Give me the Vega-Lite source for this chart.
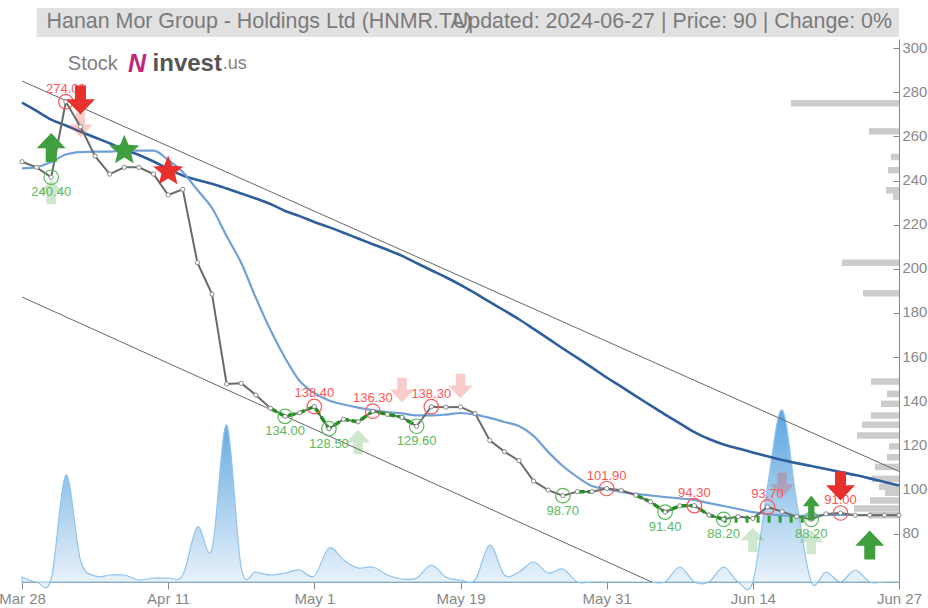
{
  "$schema": "https://vega.github.io/schema/vega-lite/v6.json",
  "width": 877,
  "height": 543,
  "autosize": {"type": "none"},
  "padding": {"left": 22, "top": 39, "right": 29, "bottom": 26},
  "background": "white",
  "config": {
    "view": {"stroke": null},
    "font": "Liberation Sans",
    "axis": {"labelFont": "Liberation Sans", "grid": false},
    "text": {"font": "Liberation Sans"}
  },
  "datasets": {
    "daily": [
      {"date":"2024-03-28","close":247.3,"ma50":273.6,"ma20":244.3,"volume":5000},
      {"date":"2024-03-31","close":244.8,"ma50":269.9,"ma20":244.9,"volume":0},
      {"date":"2024-04-01","close":240.4,"ma50":266.0,"ma20":247.2,"volume":3000},
      {"date":"2024-04-02","close":274.0,"ma50":263.4,"ma20":250.5,"volume":107000},
      {"date":"2024-04-03","close":262.9,"ma50":260.7,"ma20":251.6,"volume":22000},
      {"date":"2024-04-04","close":249.8,"ma50":258.1,"ma20":251.8,"volume":6000},
      {"date":"2024-04-07","close":241.8,"ma50":255.5,"ma20":251.8,"volume":7000},
      {"date":"2024-04-08","close":244.8,"ma50":252.7,"ma20":252.1,"volume":7000},
      {"date":"2024-04-09","close":244.8,"ma50":250.3,"ma20":252.2,"volume":2000},
      {"date":"2024-04-10","close":241.8,"ma50":247.4,"ma20":252.2,"volume":4000},
      {"date":"2024-04-11","close":232.5,"ma50":244.1,"ma20":248.1,"volume":4000},
      {"date":"2024-04-14","close":235.0,"ma50":241.2,"ma20":242.7,"volume":7000},
      {"date":"2024-04-15","close":202.4,"ma50":239.2,"ma20":234.7,"volume":55000},
      {"date":"2024-04-16","close":188.4,"ma50":237.5,"ma20":226.7,"volume":33000},
      {"date":"2024-04-17","close":148.4,"ma50":235.4,"ma20":214.2,"volume":157000},
      {"date":"2024-04-18","close":148.7,"ma50":233.2,"ma20":202.2,"volume":14000},
      {"date":"2024-04-21","close":143.5,"ma50":230.9,"ma20":186.7,"volume":10000},
      {"date":"2024-04-24","close":137.6,"ma50":228.5,"ma20":172.4,"volume":7000},
      {"date":"2024-04-25","close":134.0,"ma50":225.4,"ma20":160.0,"volume":9000},
      {"date":"2024-04-30","close":135.6,"ma50":223.1,"ma20":149.7,"volume":12000},
      {"date":"2024-05-01","close":138.4,"ma50":220.5,"ma20":144.4,"volume":6000},
      {"date":"2024-05-02","close":128.5,"ma50":218.2,"ma20":141.1,"volume":34000},
      {"date":"2024-05-05","close":132.7,"ma50":215.7,"ma20":139.3,"volume":22000},
      {"date":"2024-05-06","close":131.6,"ma50":213.1,"ma20":137.9,"volume":14000},
      {"date":"2024-05-07","close":136.3,"ma50":210.6,"ma20":136.8,"volume":15000},
      {"date":"2024-05-08","close":134.9,"ma50":208.1,"ma20":135.9,"volume":7000},
      {"date":"2024-05-09","close":133.6,"ma50":205.4,"ma20":135.3,"volume":3000},
      {"date":"2024-05-12","close":129.6,"ma50":202.2,"ma20":134.4,"volume":4000},
      {"date":"2024-05-15","close":138.3,"ma50":199.0,"ma20":134.4,"volume":17000},
      {"date":"2024-05-16","close":138.1,"ma50":195.9,"ma20":134.8,"volume":5000},
      {"date":"2024-05-19","close":138.2,"ma50":192.5,"ma20":135.5,"volume":2000},
      {"date":"2024-05-20","close":135.3,"ma50":188.8,"ma20":134.8,"volume":2000},
      {"date":"2024-05-21","close":123.3,"ma50":184.9,"ma20":133.3,"volume":37000},
      {"date":"2024-05-22","close":118.3,"ma50":181.1,"ma20":131.5,"volume":7000},
      {"date":"2024-05-23","close":114.3,"ma50":177.2,"ma20":129.7,"volume":10000},
      {"date":"2024-05-26","close":105.2,"ma50":172.9,"ma20":125.3,"volume":20000},
      {"date":"2024-05-27","close":101.2,"ma50":168.6,"ma20":118.2,"volume":9000},
      {"date":"2024-05-28","close":98.7,"ma50":164.2,"ma20":111.9,"volume":13000},
      {"date":"2024-05-29","close":100.5,"ma50":160.0,"ma20":107.0,"volume":0},
      {"date":"2024-05-30","close":100.5,"ma50":155.7,"ma20":103.0,"volume":0},
      {"date":"2024-05-31","close":101.9,"ma50":151.3,"ma20":101.7,"volume":0},
      {"date":"2024-06-02","close":101.1,"ma50":147.2,"ma20":100.4,"volume":0},
      {"date":"2024-06-03","close":98.9,"ma50":143.0,"ma20":99.5,"volume":0},
      {"date":"2024-06-04","close":96.0,"ma50":138.9,"ma20":98.8,"volume":0},
      {"date":"2024-06-05","close":91.4,"ma50":134.8,"ma20":98.1,"volume":0},
      {"date":"2024-06-06","close":94.2,"ma50":130.9,"ma20":97.5,"volume":15000},
      {"date":"2024-06-09","close":94.3,"ma50":127.0,"ma20":96.8,"volume":0},
      {"date":"2024-06-10","close":90.1,"ma50":123.9,"ma20":95.4,"volume":0},
      {"date":"2024-06-12","close":88.2,"ma50":121.5,"ma20":94.1,"volume":15000},
      {"date":"2024-06-13","close":89.4,"ma50":119.7,"ma20":92.8,"volume":0},
      {"date":"2024-06-14","close":88.6,"ma50":117.9,"ma20":91.4,"volume":0},
      {"date":"2024-06-16","close":93.7,"ma50":116.2,"ma20":90.5,"volume":95000},
      {"date":"2024-06-17","close":91.6,"ma50":114.6,"ma20":89.9,"volume":172000},
      {"date":"2024-06-18","close":89.4,"ma50":113.2,"ma20":89.7,"volume":80000},
      {"date":"2024-06-19","close":88.2,"ma50":111.9,"ma20":89.9,"volume":0},
      {"date":"2024-06-20","close":90.6,"ma50":110.6,"ma20":90.1,"volume":10000},
      {"date":"2024-06-23","close":91.0,"ma50":109.2,"ma20":90.1,"volume":0},
      {"date":"2024-06-24","close":90.0,"ma50":107.9,"ma20":90.1,"volume":12000},
      {"date":"2024-06-25","close":90.0,"ma50":106.4,"ma20":90.1,"volume":0},
      {"date":"2024-06-26","close":90.0,"ma50":104.8,"ma20":90.1,"volume":0},
      {"date":"2024-06-27","close":90.0,"ma50":103.2,"ma20":90.1,"volume":0}
    ],
    "segments": [
      {"date":"2024-04-24","close":137.6,"seg":"A"},
      {"date":"2024-04-25","close":134.0,"seg":"A"},
      {"date":"2024-04-30","close":135.6,"seg":"A"},
      {"date":"2024-05-01","close":138.4,"seg":"A"},
      {"date":"2024-05-02","close":128.5,"seg":"A"},
      {"date":"2024-05-05","close":132.7,"seg":"A"},
      {"date":"2024-05-06","close":131.6,"seg":"A"},
      {"date":"2024-05-07","close":136.3,"seg":"A"},
      {"date":"2024-05-08","close":134.9,"seg":"A"},
      {"date":"2024-05-09","close":133.6,"seg":"A"},
      {"date":"2024-05-12","close":129.6,"seg":"A"},
      {"date":"2024-05-29","close":100.5,"seg":"B"},
      {"date":"2024-05-30","close":100.5,"seg":"B"},
      {"date":"2024-06-03","close":98.9,"seg":"C"},
      {"date":"2024-06-04","close":96.0,"seg":"C"},
      {"date":"2024-06-05","close":91.4,"seg":"C"},
      {"date":"2024-06-06","close":94.2,"seg":"C"},
      {"date":"2024-06-09","close":94.3,"seg":"C"},
      {"date":"2024-06-10","close":90.1,"seg":"C"},
      {"date":"2024-06-12","close":88.2,"seg":"C"}
    ],
    "support": [
      {"date":"2024-06-12","level":88.2},
      {"date":"2024-06-19","level":88.2}
    ],
    "lows": [
      {"date":"2024-04-01","price":240.4},
      {"date":"2024-04-25","price":134.0},
      {"date":"2024-05-02","price":128.5},
      {"date":"2024-05-12","price":129.6},
      {"date":"2024-05-28","price":98.7},
      {"date":"2024-06-05","price":91.4},
      {"date":"2024-06-12","price":88.2},
      {"date":"2024-06-19","price":88.2}
    ],
    "highs": [
      {"date":"2024-04-02","price":274.0},
      {"date":"2024-05-01","price":138.4},
      {"date":"2024-05-07","price":136.3},
      {"date":"2024-05-15","price":138.3},
      {"date":"2024-05-31","price":101.9},
      {"date":"2024-06-09","price":94.3},
      {"date":"2024-06-16","price":93.7},
      {"date":"2024-06-23","price":91.0}
    ],
    "upSolid": [
      {"date":"2024-04-01","price":253.6},
      {"date":"2024-06-25","price":76.8}
    ],
    "upNarrow": [
      {"date":"2024-06-19","price":93.2}
    ],
    "upPale": [
      {"date":"2024-04-01","price":233.8},
      {"date":"2024-05-06","price":122.6},
      {"date":"2024-06-14","price":79.0},
      {"date":"2024-06-19","price":78.1}
    ],
    "downSolid": [
      {"date":"2024-04-03","price":274.8},
      {"date":"2024-06-23","price":103.0}
    ],
    "downPale": [
      {"date":"2024-04-03","price":263.6},
      {"date":"2024-05-09","price":145.7},
      {"date":"2024-05-19","price":147.5},
      {"date":"2024-06-17","price":103.5}
    ],
    "buyStar": [{"date":"2024-04-08","price":252.3}],
    "sellStar": [{"date":"2024-04-11","price":243.0}],
    "trend": [
      {"date":"2024-03-28","band":"upper","price":283.2},
      {"date":"2024-06-27","band":"upper","price":109.5},
      {"date":"2024-03-28","band":"lower","price":187.1},
      {"date":"2024-06-27","band":"lower","price":10.5}
    ],
    "profile": [
      {"price":275.0,"volume":10800},
      {"price":262.3,"volume":3000},
      {"price":250.7,"volume":800},
      {"price":244.7,"volume":1100},
      {"price":235.6,"volume":1300},
      {"price":232.7,"volume":600},
      {"price":202.7,"volume":5700},
      {"price":188.9,"volume":3600},
      {"price":148.9,"volume":2800},
      {"price":143.3,"volume":1200},
      {"price":138.8,"volume":1800},
      {"price":133.5,"volume":2800},
      {"price":129.3,"volume":3700},
      {"price":124.4,"volume":4200},
      {"price":119.5,"volume":1000},
      {"price":114.6,"volume":1200},
      {"price":110.2,"volume":2400},
      {"price":104.8,"volume":2700},
      {"price":101.2,"volume":2000},
      {"price":98.5,"volume":1400},
      {"price":95.0,"volume":2900},
      {"price":91.3,"volume":4500},
      {"price":88.3,"volume":3000}
    ]
  },
  "resolve": {"scale": {"x": "independent", "y": "independent"}},
  "layer": [
    {
      "data": {"name": "daily"},
      "mark": {
        "type": "area",
        "interpolate": "cardinal",
        "stroke": "#8fc3ec",
        "strokeWidth": 1.2,
        "fillOpacity": 1,
        "fill": {
          "gradient": "linear", "x1": 0, "y1": 0, "x2": 0, "y2": 1,
          "stops": [{"offset": 0, "color": "#5ba5de"}, {"offset": 1, "color": "#eef5fc"}]
        }
      },
      "encoding": {
        "x": {
          "field": "date", "type": "ordinal", "scale": {"type": "point", "padding": 0},
          "axis": {
            "values": ["2024-03-28", "2024-04-11", "2024-05-01", "2024-05-19", "2024-05-31", "2024-06-14", "2024-06-27"],
            "labelExpr": "utcFormat(toDate(datum.value), '%b %-d')",
            "title": null, "labelAngle": 0, "labelOverlap": false, "tickSize": 7, "labelPadding": 2,
            "labelFontSize": 15, "labelColor": "#888888", "domainColor": "#888888", "tickColor": "#888888", "grid": false
          }
        },
        "y": {"field": "volume", "type": "quantitative", "scale": {"domain": [0, 543000], "nice": false}, "axis": null}
      }
    },
    {
      "data": {"name": "profile"},
      "mark": {"type": "bar", "orient": "horizontal", "height": 6.5, "color": "#cccccc"},
      "encoding": {
        "x": {"field": "volume", "type": "quantitative", "scale": {"domain": [0, 87700], "reverse": true, "nice": false}, "axis": null},
        "y": {
          "field": "price", "type": "quantitative", "scale": {"domain": [60.3, 301.9], "nice": false, "zero": false},
          "axis": {
            "orient": "right", "values": [80, 100, 120, 140, 160, 180, 200, 220, 240, 260, 280, 300],
            "title": null, "tickSize": -6, "labelPadding": 9, "labelFontSize": 14.8,
            "labelColor": "#888888", "domainColor": "#888888", "tickColor": "#888888", "grid": false
          }
        }
      }
    },
    {
      "layer": [
        {
          "data": {"values": [{}]},
          "mark": {"type": "rect", "color": "#e1e1e1"},
          "encoding": {
            "x": {"datum": "2024-03-31", "type": "ordinal", "scale": {"type": "point", "padding": 0}, "axis": null},
            "x2": {"datum": "2024-06-27"},
            "y": {"datum": 315.7, "type": "quantitative", "scale": {"domain": [60.3, 301.9], "nice": false, "zero": false}, "axis": null},
            "y2": {"datum": 302.8}
          }
        },
        {
          "data": {"values": [{}]},
          "mark": {"type": "text", "text": "Hanan Mor Group - Holdings Ltd (HNMR.TA)", "align": "left", "baseline": "middle", "dx": 10, "fontSize": 21.4, "color": "#7a7a7a"},
          "encoding": {
            "x": {"datum": "2024-03-31", "type": "ordinal", "scale": {"type": "point", "padding": 0}, "axis": null},
            "y": {"datum": 309.5, "type": "quantitative", "scale": {"domain": [60.3, 301.9], "nice": false, "zero": false}, "axis": null}
          }
        },
        {
          "data": {"values": [{}]},
          "mark": {"type": "text", "text": "Updated: 2024-06-27 | Price: 90 | Change: 0%", "align": "right", "baseline": "middle", "dx": -7, "fontSize": 21.4, "color": "#7a7a7a"},
          "encoding": {
            "x": {"datum": "2024-06-27", "type": "ordinal", "scale": {"type": "point", "padding": 0}, "axis": null},
            "y": {"datum": 309.5, "type": "quantitative", "scale": {"domain": [60.3, 301.9], "nice": false, "zero": false}, "axis": null}
          }
        },
        {
          "data": {"values": [{}]},
          "mark": {"type": "text", "text": "Stock", "align": "left", "baseline": "middle", "dx": 2, "fontSize": 20, "color": "#808080"},
          "encoding": {
            "x": {"datum": "2024-04-02", "type": "ordinal", "scale": {"type": "point", "padding": 0}, "axis": null},
            "y": {"datum": 290.8, "type": "quantitative", "scale": {"domain": [60.3, 301.9], "nice": false, "zero": false}, "axis": null}
          }
        },
        {
          "data": {"values": [{}]},
          "mark": {"type": "text", "text": "N", "align": "center", "baseline": "middle", "dx": -2, "fontSize": 25, "fontWeight": "bold", "fontStyle": "italic", "color": "#c0267c"},
          "encoding": {
            "x": {"datum": "2024-04-09", "type": "ordinal", "scale": {"type": "point", "padding": 0}, "axis": null},
            "y": {"datum": 290.8, "type": "quantitative", "scale": {"domain": [60.3, 301.9], "nice": false, "zero": false}, "axis": null}
          }
        },
        {
          "data": {"values": [{}]},
          "mark": {"type": "text", "text": "invest", "align": "left", "baseline": "middle", "dx": -1, "fontSize": 24, "fontWeight": "bold", "color": "#555555"},
          "encoding": {
            "x": {"datum": "2024-04-10", "type": "ordinal", "scale": {"type": "point", "padding": 0}, "axis": null},
            "y": {"datum": 290.8, "type": "quantitative", "scale": {"domain": [60.3, 301.9], "nice": false, "zero": false}, "axis": null}
          }
        },
        {
          "data": {"values": [{}]},
          "mark": {"type": "text", "text": ".us", "align": "left", "baseline": "middle", "dx": -4, "fontSize": 18, "color": "#808080"},
          "encoding": {
            "x": {"datum": "2024-04-17", "type": "ordinal", "scale": {"type": "point", "padding": 0}, "axis": null},
            "y": {"datum": 290.8, "type": "quantitative", "scale": {"domain": [60.3, 301.9], "nice": false, "zero": false}, "axis": null}
          }
        },
        {
          "data": {"name": "trend"},
          "mark": {"type": "line", "color": "#666666", "strokeWidth": 1, "clip": true},
          "encoding": {
            "x": {"field": "date", "type": "ordinal", "scale": {"type": "point", "padding": 0}, "axis": null},
            "y": {"field": "price", "type": "quantitative", "scale": {"domain": [60.3, 301.9], "nice": false, "zero": false}, "axis": null},
            "detail": {"field": "band"}
          }
        },
        {
          "data": {"name": "daily"},
          "mark": {"type": "line", "color": "#2e5f9c", "strokeWidth": 2.6, "interpolate": "monotone"},
          "encoding": {
            "x": {"field": "date", "type": "ordinal", "scale": {"type": "point", "padding": 0}, "axis": null},
            "y": {"field": "ma50", "type": "quantitative", "scale": {"domain": [60.3, 301.9], "nice": false, "zero": false}, "axis": null}
          }
        },
        {
          "data": {"name": "daily"},
          "mark": {"type": "line", "color": "#6fa0d6", "strokeWidth": 2.2, "interpolate": "monotone"},
          "encoding": {
            "x": {"field": "date", "type": "ordinal", "scale": {"type": "point", "padding": 0}, "axis": null},
            "y": {"field": "ma20", "type": "quantitative", "scale": {"domain": [60.3, 301.9], "nice": false, "zero": false}, "axis": null}
          }
        },
        {
          "data": {"name": "upPale"},
          "mark": {"type": "point", "shape": "M0,-1L1,0.05L0.38,0.05L0.38,1L-0.38,1L-0.38,0.05L-1,0.05Z", "filled": true, "color": "#3f9f3f", "opacity": 0.25, "size": 600},
          "encoding": {
            "x": {"field": "date", "type": "ordinal", "scale": {"type": "point", "padding": 0}, "axis": null},
            "y": {"field": "price", "type": "quantitative", "scale": {"domain": [60.3, 301.9], "nice": false, "zero": false}, "axis": null}
          }
        },
        {
          "data": {"name": "downPale"},
          "mark": {"type": "point", "shape": "M0,1L1,-0.05L0.38,-0.05L0.38,-1L-0.38,-1L-0.38,-0.05L-1,-0.05Z", "filled": true, "color": "#e8302d", "opacity": 0.25, "size": 600},
          "encoding": {
            "x": {"field": "date", "type": "ordinal", "scale": {"type": "point", "padding": 0}, "axis": null},
            "y": {"field": "price", "type": "quantitative", "scale": {"domain": [60.3, 301.9], "nice": false, "zero": false}, "axis": null}
          }
        },
        {
          "data": {"name": "daily"},
          "mark": {"type": "line", "color": "#6a6a6a", "strokeWidth": 2},
          "encoding": {
            "x": {"field": "date", "type": "ordinal", "scale": {"type": "point", "padding": 0}, "axis": null},
            "y": {"field": "close", "type": "quantitative", "scale": {"domain": [60.3, 301.9], "nice": false, "zero": false}, "axis": null}
          }
        },
        {
          "data": {"name": "segments"},
          "mark": {"type": "line", "color": "#1f8f1f", "strokeWidth": 3.5, "strokeDash": [7, 3]},
          "encoding": {
            "x": {"field": "date", "type": "ordinal", "scale": {"type": "point", "padding": 0}, "axis": null},
            "y": {"field": "close", "type": "quantitative", "scale": {"domain": [60.3, 301.9], "nice": false, "zero": false}, "axis": null},
            "detail": {"field": "seg"}
          }
        },
        {
          "data": {"name": "support"},
          "mark": {"type": "line", "color": "#2ca02c", "strokeWidth": 7, "strokeDash": [3, 8]},
          "encoding": {
            "x": {"field": "date", "type": "ordinal", "scale": {"type": "point", "padding": 0}, "axis": null},
            "y": {"field": "level", "type": "quantitative", "scale": {"domain": [60.3, 301.9], "nice": false, "zero": false}, "axis": null}
          }
        },
        {
          "data": {"name": "daily"},
          "mark": {"type": "point", "filled": true, "fill": "white", "stroke": "#888888", "strokeWidth": 1, "size": 18, "opacity": 1},
          "encoding": {
            "x": {"field": "date", "type": "ordinal", "scale": {"type": "point", "padding": 0}, "axis": null},
            "y": {"field": "close", "type": "quantitative", "scale": {"domain": [60.3, 301.9], "nice": false, "zero": false}, "axis": null}
          }
        },
        {
          "data": {"name": "lows"},
          "mark": {"type": "point", "shape": "circle", "filled": false, "color": "#5cb85c", "strokeWidth": 1.2, "size": 210, "opacity": 1},
          "encoding": {
            "x": {"field": "date", "type": "ordinal", "scale": {"type": "point", "padding": 0}, "axis": null},
            "y": {"field": "price", "type": "quantitative", "scale": {"domain": [60.3, 301.9], "nice": false, "zero": false}, "axis": null}
          }
        },
        {
          "data": {"name": "highs"},
          "mark": {"type": "point", "shape": "circle", "filled": false, "color": "#ff5555", "strokeWidth": 1.2, "size": 210, "opacity": 1},
          "encoding": {
            "x": {"field": "date", "type": "ordinal", "scale": {"type": "point", "padding": 0}, "axis": null},
            "y": {"field": "price", "type": "quantitative", "scale": {"domain": [60.3, 301.9], "nice": false, "zero": false}, "axis": null}
          }
        },
        {
          "data": {"name": "lows"},
          "mark": {"type": "text", "baseline": "middle", "align": "center", "dy": 15, "fontSize": 13, "color": "#5cb85c"},
          "encoding": {
            "x": {"field": "date", "type": "ordinal", "scale": {"type": "point", "padding": 0}, "axis": null},
            "y": {"field": "price", "type": "quantitative", "scale": {"domain": [60.3, 301.9], "nice": false, "zero": false}, "axis": null},
            "text": {"field": "price", "type": "quantitative", "format": ".2f"}
          }
        },
        {
          "data": {"name": "highs"},
          "mark": {"type": "text", "baseline": "middle", "align": "center", "dy": -13, "fontSize": 13, "color": "#ff5555"},
          "encoding": {
            "x": {"field": "date", "type": "ordinal", "scale": {"type": "point", "padding": 0}, "axis": null},
            "y": {"field": "price", "type": "quantitative", "scale": {"domain": [60.3, 301.9], "nice": false, "zero": false}, "axis": null},
            "text": {"field": "price", "type": "quantitative", "format": ".2f"}
          }
        },
        {
          "data": {"name": "upSolid"},
          "mark": {"type": "point", "shape": "M0,-1L1,0.05L0.38,0.05L0.38,1L-0.38,1L-0.38,0.05L-1,0.05Z", "filled": true, "color": "#3f9f3f", "opacity": 1, "size": 841},
          "encoding": {
            "x": {"field": "date", "type": "ordinal", "scale": {"type": "point", "padding": 0}, "axis": null},
            "y": {"field": "price", "type": "quantitative", "scale": {"domain": [60.3, 301.9], "nice": false, "zero": false}, "axis": null}
          }
        },
        {
          "data": {"name": "upNarrow"},
          "mark": {"type": "point", "shape": "M0,-1L0.68,-0.15L0.25,-0.15L0.25,1L-0.25,1L-0.25,-0.15L-0.68,-0.15Z", "filled": true, "color": "#3f9f3f", "opacity": 1, "size": 625},
          "encoding": {
            "x": {"field": "date", "type": "ordinal", "scale": {"type": "point", "padding": 0}, "axis": null},
            "y": {"field": "price", "type": "quantitative", "scale": {"domain": [60.3, 301.9], "nice": false, "zero": false}, "axis": null}
          }
        },
        {
          "data": {"name": "downSolid"},
          "mark": {"type": "point", "shape": "M0,1L1,-0.05L0.38,-0.05L0.38,-1L-0.38,-1L-0.38,-0.05L-1,-0.05Z", "filled": true, "color": "#e8302d", "opacity": 1, "size": 841},
          "encoding": {
            "x": {"field": "date", "type": "ordinal", "scale": {"type": "point", "padding": 0}, "axis": null},
            "y": {"field": "price", "type": "quantitative", "scale": {"domain": [60.3, 301.9], "nice": false, "zero": false}, "axis": null}
          }
        },
        {
          "data": {"name": "buyStar"},
          "mark": {"type": "point", "shape": "M0,-1L0.265,-0.364L0.951,-0.309L0.428,0.139L0.588,0.809L0,0.45L-0.588,0.809L-0.428,0.139L-0.951,-0.309L-0.265,-0.364Z", "filled": true, "color": "#3f9f3f", "opacity": 1, "size": 994},
          "encoding": {
            "x": {"field": "date", "type": "ordinal", "scale": {"type": "point", "padding": 0}, "axis": null},
            "y": {"field": "price", "type": "quantitative", "scale": {"domain": [60.3, 301.9], "nice": false, "zero": false}, "axis": null}
          }
        },
        {
          "data": {"name": "sellStar"},
          "mark": {"type": "point", "shape": "M0,-1L0.265,-0.364L0.951,-0.309L0.428,0.139L0.588,0.809L0,0.45L-0.588,0.809L-0.428,0.139L-0.951,-0.309L-0.265,-0.364Z", "filled": true, "color": "#e8302d", "opacity": 1, "size": 994},
          "encoding": {
            "x": {"field": "date", "type": "ordinal", "scale": {"type": "point", "padding": 0}, "axis": null},
            "y": {"field": "price", "type": "quantitative", "scale": {"domain": [60.3, 301.9], "nice": false, "zero": false}, "axis": null}
          }
        }
      ]
    }
  ]
}
